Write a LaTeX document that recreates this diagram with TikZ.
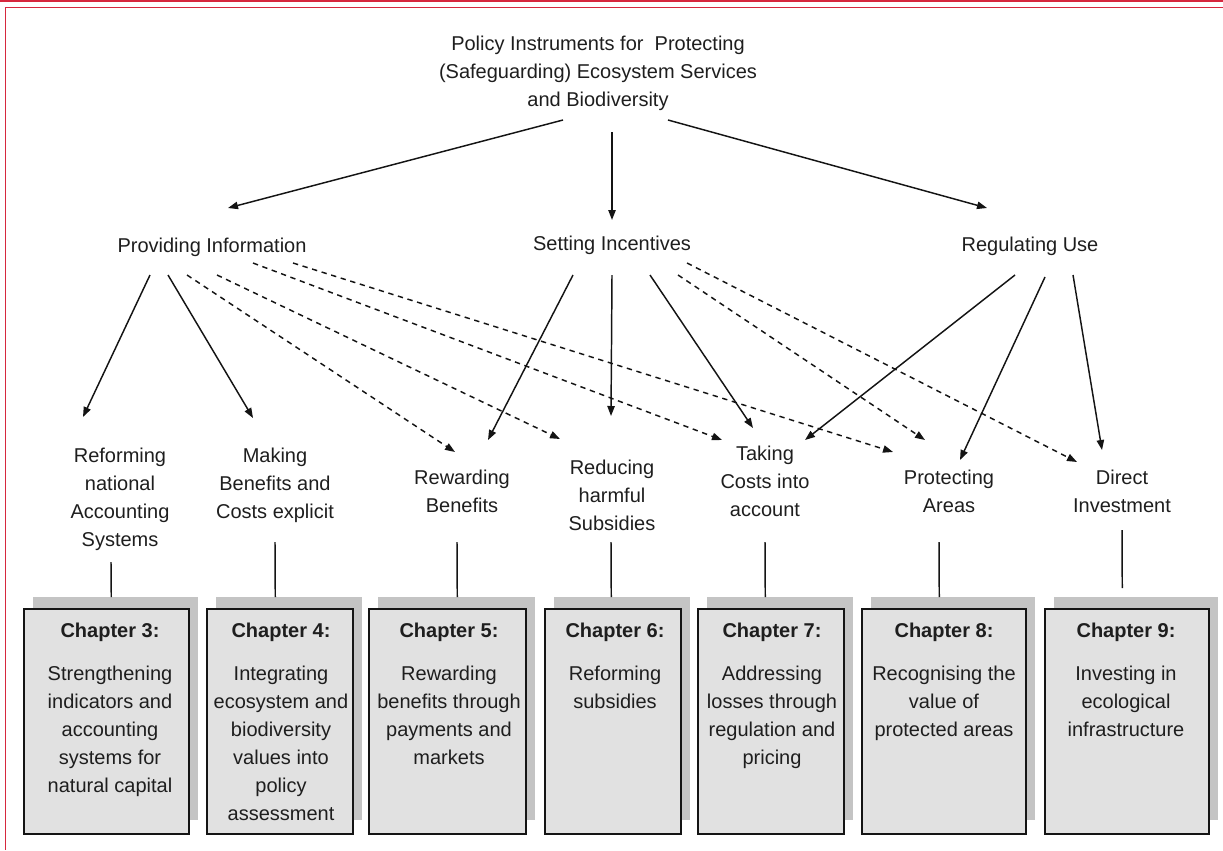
\documentclass[tikz,border=0pt]{standalone}
\usepackage{fontspec}
\setmainfont{Liberation Sans}
\usetikzlibrary{arrows.meta}
\definecolor{framered}{RGB}{214,40,62}
\definecolor{txt}{RGB}{30,30,30}
\definecolor{ink}{RGB}{20,20,20}
\definecolor{shade}{RGB}{196,196,196}
\definecolor{boxfill}{RGB}{225,225,225}
\newcommand\labfont{\fontsize{15}{21}\selectfont}
\newcommand\chapbox[5]{%
  \node[shadowbox, minimum width={0.75pt*(#3-#2)}, minimum height={0.75pt*223}] (s#1) at (#2+10,597) {};
  \node[frontbox, minimum width={0.75pt*(#3-#2)}, minimum height={0.75pt*225}] (b#1) at (#2,608) {};
  \node[lbl] (t#1) at (#4,617.6) {\strut\textbf{Chapter #1:}\\[11.25pt]#5};
}
\begin{document}
\begin{tikzpicture}[x=0.75pt,y=-0.75pt,
  lbl/.style={font=\labfont, align=center, anchor=north, inner sep=0pt, text=txt},
  arr/.style={draw=ink, line width=1.1pt, -{Triangle[length=7.5pt,width=5.5pt]}},
  darr/.style={arr, dash pattern=on 4pt off 3.5pt},
  tie/.style={draw=ink, line width=1.1pt},
  shadowbox/.style={fill=shade, inner sep=0pt, anchor=north west},
  frontbox/.style={fill=boxfill, draw=ink, line width=1.8pt, inner sep=0pt, anchor=north west},
  frame/.style={draw=framered, line width=1.3pt}
]
\useasboundingbox (0,0) rectangle (1223,850);
\draw[frame] (0,1) -- (1223,1);
\draw[frame] (1223,7.5) -- (5.5,7.5) -- (5.5,850);

% labels
\node[lbl] (T) at (598,30.6) {\strut Policy Instruments for~ Protecting\\(Safeguarding) Ecosystem Services\\and Biodiversity};
\node[lbl] (PI) at (212,232.6) {\strut Providing Information};
\node[lbl] (SI) at (612,230.6) {\strut Setting Incentives};
\node[lbl] (RU) at (1030,231.6) {\strut Regulating Use};
\node[lbl] (RF) at (120,442.6) {\strut Reforming\\national\\Accounting\\Systems};
\node[lbl] (MK) at (275,442.6) {\strut Making\\Benefits and\\Costs explicit};
\node[lbl] (RW) at (462,464.6) {\strut Rewarding\\Benefits};
\node[lbl] (RD) at (612,454.6) {\strut Reducing\\harmful\\Subsidies};
\node[lbl] (TK) at (765,440.6) {\strut Taking\\Costs into\\account};
\node[lbl] (PR) at (949,464.6) {\strut Protecting\\Areas};
\node[lbl] (DI) at (1122,464.6) {\strut Direct\\Investment};

% chapter boxes
\chapbox{3}{23}{188}{110}{Strengthening\\indicators and\\accounting\\systems for\\natural capital}
\chapbox{4}{206}{352}{281}{Integrating\\ecosystem and\\biodiversity\\values into\\policy\\assessment}
\chapbox{5}{368}{525}{449}{Rewarding\\benefits through\\payments and\\markets}
\chapbox{6}{544}{680}{615}{Reforming\\subsidies}
\chapbox{7}{697}{843}{772}{Addressing\\losses through\\regulation and\\pricing}
\chapbox{8}{861}{1025}{944}{Recognising the\\value of\\protected areas}
\chapbox{9}{1044}{1208}{1126}{Investing in\\ecological\\infrastructure}

% title arrows
\draw[arr] ([shift={(-35,89.4)}]T.north) -- ([shift={(16,-24.6)}]PI.north);
\draw[arr] ([shift={(14,101.4)}]T.north) -- ([shift={(0,-10.6)}]SI.north);
\draw[arr] ([shift={(70,89.4)}]T.north) -- ([shift={(-43,-23.6)}]RU.north);

% providing information
\draw[arr] ([shift={(-62,42.4)}]PI.north) -- ([shift={(-37,-25.6)}]RF.north);
\draw[arr] ([shift={(-44,42.4)}]PI.north) -- ([shift={(-22,-24.6)}]MK.north);
\draw[darr] ([shift={(-25,42.4)}]PI.north) -- ([shift={(-7,-12.6)}]RW.north);
\draw[darr] ([shift={(5,42.4)}]PI.north) -- ([shift={(-52,-15.6)}]RD.north);
\draw[darr] ([shift={(41,30.4)}]PI.north) -- ([shift={(-43,-0.6)}]TK.north);
\draw[darr] ([shift={(81,30.4)}]PI.north) -- ([shift={(-56,-12.6)}]PR.north);

% setting incentives
\draw[arr] ([shift={(-39,44.4)}]SI.north) -- ([shift={(26,-24.6)}]RW.north);
\draw[arr] ([shift={(0,44.4)}]SI.north) -- ([shift={(-1,-38.6)}]RD.north);
\draw[arr] ([shift={(38,44.4)}]SI.north) -- ([shift={(-12,-12.6)}]TK.north);
\draw[darr] ([shift={(66,44.4)}]SI.north) -- ([shift={(-24,-24.6)}]PR.north);
\draw[darr] ([shift={(75,32.4)}]SI.north) -- ([shift={(-45,-2.6)}]DI.north);

% regulating use
\draw[arr] ([shift={(-15,43.4)}]RU.north) -- ([shift={(40,-0.6)}]TK.north);
\draw[arr] ([shift={(15,45.4)}]RU.north) -- ([shift={(11,-4.6)}]PR.north);
\draw[arr] ([shift={(43,43.4)}]RU.north) -- ([shift={(-20,-14.6)}]DI.north);

% ties to chapters
\draw[tie] ([shift={(-9,119.4)}]RF.north) -- ([shift={(-4.5,0)}]s3.north);
\draw[tie] ([shift={(0,99.4)}]MK.north) -- ([shift={(-14,0)}]s4.north);
\draw[tie] ([shift={(-5,77.4)}]RW.north) -- ([shift={(0.5,0)}]s5.north);
\draw[tie] ([shift={(-1,87.4)}]RD.north) -- ([shift={(-11,0)}]s6.north);
\draw[tie] ([shift={(0,101.4)}]TK.north) -- ([shift={(-15,0)}]s7.north);
\draw[tie] ([shift={(-10,77.4)}]PR.north) -- ([shift={(-14,0)}]s8.north);
\draw[tie] ([shift={(0,65.4)}]DI.north) -- ([shift={(-14,-9)}]s9.north);
\end{tikzpicture}
\end{document}
